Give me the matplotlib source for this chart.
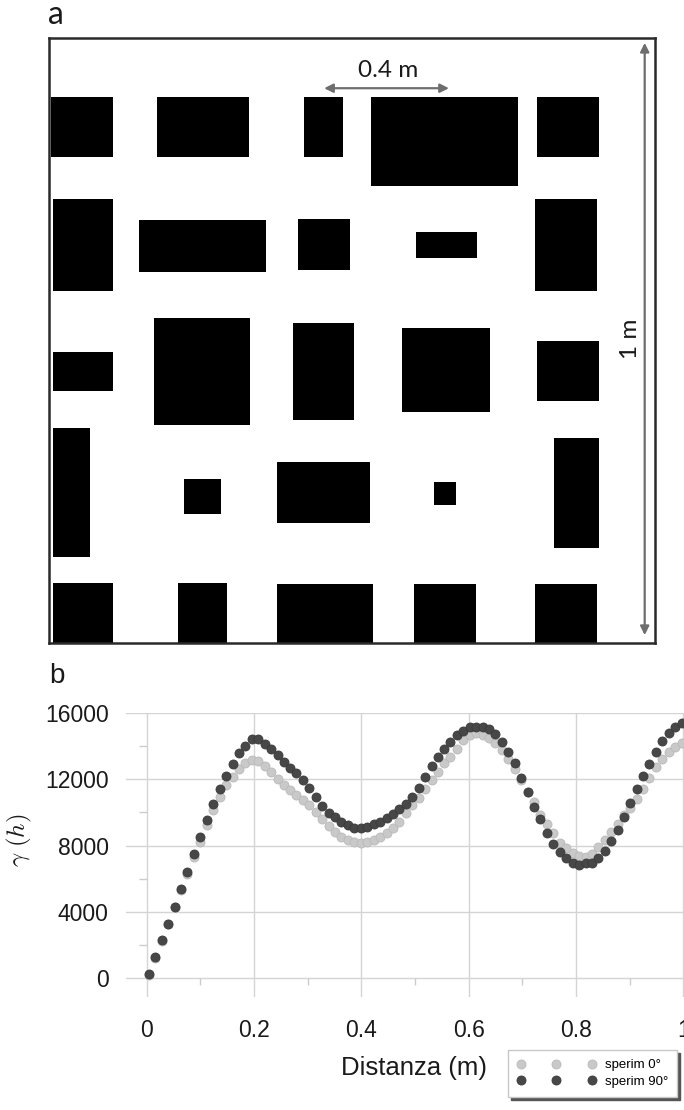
import matplotlib
matplotlib.use('Agg')
import matplotlib.pyplot as plt
from matplotlib.patches import Rectangle

plt.rcParams['font.family'] = ['Liberation Sans', 'DejaVu Sans']
plt.rcParams['mathtext.fontset'] = 'cm'

# --- pannello a: blocchi del modello (metri) ---
block_x0 = [0.004, 0.178, 0.421, 0.532, 0.805,
            0.006, 0.149, 0.411, 0.605, 0.802,
            0.006, 0.173, 0.403, 0.583, 0.805,
            0.006, 0.223, 0.376, 0.635, 0.833,
            0.006, 0.213, 0.376, 0.602, 0.802]
block_x1 = [0.106, 0.330, 0.485, 0.774, 0.907,
            0.106, 0.358, 0.496, 0.707, 0.905,
            0.105, 0.332, 0.504, 0.728, 0.907,
            0.068, 0.284, 0.530, 0.672, 0.907,
            0.105, 0.294, 0.535, 0.704, 0.905]
block_y0 = [0.803, 0.803, 0.803, 0.755, 0.803,
            0.581, 0.614, 0.616, 0.636, 0.581,
            0.417, 0.361, 0.369, 0.381, 0.400,
            0.142, 0.214, 0.198, 0.228, 0.157,
            0.000, 0.000, 0.000, 0.000, 0.000]
block_y1 = [0.902, 0.902, 0.902, 0.902, 0.902,
            0.734, 0.700, 0.700, 0.679, 0.734,
            0.481, 0.537, 0.529, 0.520, 0.499,
            0.355, 0.271, 0.299, 0.266, 0.339,
            0.099, 0.099, 0.098, 0.098, 0.098]

# --- pannello b: variogramma sperimentale ---
lag = [0.004, 0.016, 0.028, 0.040, 0.052, 0.064, 0.076, 0.088, 0.100, 0.112,
       0.124, 0.136, 0.148, 0.160, 0.172, 0.184, 0.196, 0.208, 0.220, 0.232,
       0.244, 0.255, 0.267, 0.279, 0.291, 0.303, 0.315, 0.327, 0.339, 0.351,
       0.363, 0.375, 0.387, 0.399, 0.411, 0.423, 0.435, 0.447, 0.459, 0.471,
       0.483, 0.495, 0.507, 0.519, 0.531, 0.543, 0.555, 0.566, 0.578, 0.590,
       0.602, 0.614, 0.626, 0.638, 0.650, 0.662, 0.674, 0.686, 0.698, 0.710,
       0.722, 0.734, 0.746, 0.758, 0.770, 0.782, 0.794, 0.806, 0.818, 0.830,
       0.842, 0.854, 0.866, 0.878, 0.889, 0.901, 0.913, 0.925, 0.937, 0.949,
       0.961, 0.973, 0.985, 0.997]
gamma_0 = [240, 1260, 2260, 3260, 4280, 5300, 6300, 7327, 8231, 9235,
           10138, 10901, 11623, 12145, 12607, 12948, 13149, 13109, 12808, 12406,
           12005, 11643, 11342, 11041, 10740, 10439, 10038, 9576, 9174, 8833,
           8532, 8331, 8191, 8130, 8191, 8331, 8532, 8773, 9034, 9435,
           9937, 10440, 10841, 11383, 11945, 12447, 12948, 13350, 13792, 14354,
           14655, 14755, 14655, 14454, 14153, 13751, 13189, 12587, 11945, 11242,
           10640, 9837, 9295, 8733, 8171, 7829, 7528, 7368, 7327, 7488,
           7930, 8331, 8833, 9295, 9837, 10238, 10780, 11383, 12045, 12748,
           13189, 13651, 13952, 14193]
gamma_90 = [261, 1285, 2289, 3292, 4316, 5360, 6404, 7468, 8512, 9536,
            10499, 11423, 12186, 12908, 13551, 14012, 14414, 14414, 14133, 13812,
            13450, 13049, 12687, 12386, 11945, 11443, 10901, 10379, 9977, 9696,
            9435, 9235, 9074, 9034, 9134, 9275, 9435, 9676, 9897, 10178,
            10499, 10920, 11443, 12145, 12808, 13350, 13812, 14253, 14655, 14916,
            15157, 15157, 15157, 14996, 14695, 14253, 13651, 12948, 12045, 11242,
            10339, 9576, 8773, 8090, 7588, 7227, 6926, 6826, 6926, 6966,
            7247, 7689, 8271, 8933, 9736, 10580, 11383, 12186, 12908, 13611,
            14313, 14755, 15116, 15397]

x_ticks = [0, 0.2, 0.4, 0.6, 0.8, 1.0]
x_tick_labels = ['0', '0.2', '0.4', '0.6', '0.8', '1']
y_ticks = [0, 4000, 8000, 12000, 16000]
x_minor = [0.1, 0.3, 0.5, 0.7, 0.9]
y_minor = [2000, 6000, 10000, 14000]

W, H = 684, 1110
fig = plt.figure(figsize=(W / 100, H / 100), dpi=100)

# ---------------- a ----------------
axa = fig.add_axes([49 / W, 1 - 643 / H, 606 / W, 605 / H])
axa.set_xlim(0, 1)
axa.set_ylim(0, 1)
axa.set_xticks([])
axa.set_yticks([])
for s in axa.spines.values():
    s.set_linewidth(1.8)
    s.set_color('#2a2a2a')

for x0, x1, y0, y1 in zip(block_x0, block_x1, block_y0, block_y1):
    axa.add_patch(Rectangle((x0, y0), x1 - x0, y1 - y0, facecolor='black',
                            edgecolor='none'))

arrow = dict(arrowstyle='<|-|>', color='#6e6e6e', lw=1.6, mutation_scale=13,
             shrinkA=0, shrinkB=0)
axa.annotate('', xy=(0.660, 0.917), xytext=(0.454, 0.917), arrowprops=arrow)
axa.annotate('', xy=(0.983, 0.013), xytext=(0.983, 0.992), arrowprops=arrow)
axa.text(0.559, 0.946, '0.4 m', family='Lato', fontsize=17.5, color='#1a1a1a',
         ha='center', va='center')
axa.text(0.960, 0.502, '1 m', family='Lato', fontsize=17.5, color='#1a1a1a',
         ha='center', va='center', rotation=90)
fig.text(48 / W, 1 - 15 / H, 'a', family='Lato', fontsize=23, color='#1a1a1a',
         ha='left', va='center')

# ---------------- b ----------------
axb = fig.add_axes([125.5 / W, 1 - 997 / H, (W - 125.5) / W, (997 - 712.7) / H])
axb.set_xlim(-0.0395, 1.0015)
axb.set_ylim(-1114, 16000)
for s in axb.spines.values():
    s.set_visible(False)
axb.set_xticks(x_ticks)
axb.set_xticklabels(x_tick_labels)
axb.set_yticks(y_ticks)
axb.grid(True, color='#d4d4d4', lw=1.0)
axb.set_axisbelow(True)
axb.tick_params(axis='both', length=0, labelsize=16.5, labelcolor='#1a1a1a')
axb.tick_params(axis='y', pad=12)
axb.tick_params(axis='x', pad=16)
axb.hlines(y_minor, -0.015, 0, color='#cccccc', lw=1.0)
axb.vlines(x_minor, -420, 0, color='#cccccc', lw=1.0)

axb.plot(lag, gamma_0, 'o', ms=6.5, mfc='#c9c9c9', mec='#b9b9b9', mew=0.6,
         ls='none', label='sperim 0°')
axb.plot(lag, gamma_90, 'o', ms=6.5, mfc='#474747', mec='#3a3a3a', mew=0.6,
         ls='none', label='sperim 90°')

leg = axb.legend(loc='upper left', bbox_to_anchor=(508 / W, 1 - 1050 / H),
                 bbox_transform=fig.transFigure, numpoints=3, handlelength=5.95,
                 handletextpad=0.68, borderpad=0.7, labelspacing=0.3,
                 fontsize=9.5, frameon=True, fancybox=False, framealpha=1,
                 edgecolor='#c8c8c8', borderaxespad=0,
                 shadow={'color': '#555555', 'alpha': 1})
leg.get_frame().set_linewidth(1.0)

fig.text(414 / W, 1 - 1068 / H, 'Distanza (m)', fontsize=18.5, color='#1a1a1a',
         ha='center', va='center')
fig.text(19 / W, 1 - 840 / H, r'$\gamma\ (h)$', fontsize=18, color='#1a1a1a',
         ha='center', va='center', rotation=90)
fig.text(49 / W, 1 - 676 / H, 'b', fontsize=20, color='#1a1a1a',
         ha='left', va='center')

fig.savefig('out.png', dpi=100)
